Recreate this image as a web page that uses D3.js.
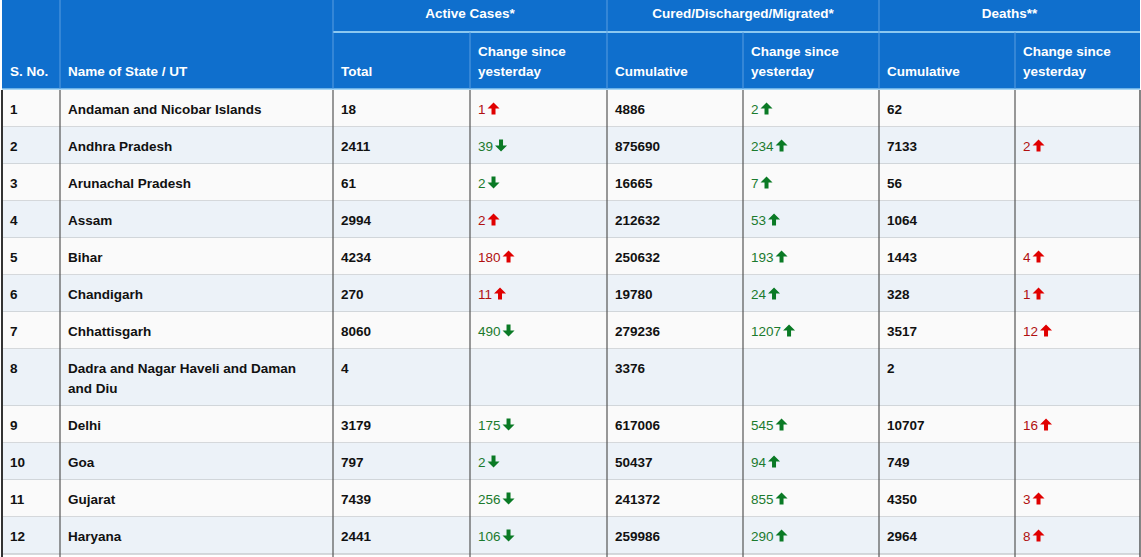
<!DOCTYPE html>
<html><head><meta charset="utf-8">
<script src="https://cdn.jsdelivr.net/npm/d3@7"></script>
<style>body{margin:0;background:#fff}svg{display:block}</style>
</head><body><svg id="c" width="1141" height="557"></svg>
<script>
const sno=[1,2,3,4,5,6,7,8,9,10,11,12];
const states=["Andaman and Nicobar Islands","Andhra Pradesh","Arunachal Pradesh","Assam","Bihar","Chandigarh","Chhattisgarh",["Dadra and Nagar Haveli and Daman","and Diu"],"Delhi","Goa","Gujarat","Haryana"];
const activeTotal=[18,2411,61,2994,4234,270,8060,4,3179,797,7439,2441];
const activeChange=[1,-39,-2,2,180,11,-490,null,-175,-2,-256,-106];
const curedCum=[4886,875690,16665,212632,250632,19780,279236,3376,617006,50437,241372,259986];
const curedChange=[2,234,7,53,193,24,1207,null,545,94,855,290];
const deathCum=[62,7133,56,1064,1443,328,3517,2,10707,749,4350,2964];
const deathChange=[null,2,null,null,4,1,12,null,16,null,3,8];
const groupHeaders=["Active Cases*","Cured/Discharged/Migrated*","Deaths**"];
const colHeaders=[["S. No."],["Name of State / UT"],["Total"],["Change since","yesterday"],["Cumulative"],["Change since","yesterday"],["Cumulative"],["Change since","yesterday"]];

const svg=d3.select("#c");
const F="'Liberation Sans',Arial,sans-serif";
const edges=[2,60,333,470,607,743,879,1015,1140];
const x=d3.scaleOrdinal().domain(d3.range(9)).range(edges);
const blue="#0f6fcd";
const headTop=0, headMid=32, headBot=89;
// row heights from line counts
const lines=states.map(s=>Array.isArray(s)?2:1);
const rowY=[];let yy=headBot+1;
lines.forEach(l=>{rowY.push(yy);yy+=l===2?57:37;});
const y=d3.scaleOrdinal().domain(d3.range(sno.length)).range(rowY);
const hgt=i=>lines[i]===2?57:37;

// header
svg.append("rect").attr("x",x(0)).attr("y",headTop).attr("width",x(8)-x(0)).attr("height",headBot-headTop).attr("fill",blue);
svg.append("line").attr("x1",x(2)).attr("x2",x(8)).attr("y1",headMid).attr("y2",headMid).attr("stroke","#8cc8f0").attr("stroke-width",2);
svg.append("line").attr("x1",x(0)).attr("x2",x(8)).attr("y1",headBot).attr("y2",headBot).attr("stroke","#8cc8f0").attr("stroke-width",1.5);
[1,2,4,6].forEach(k=>svg.append("line").attr("x1",x(k)).attr("x2",x(k)).attr("y1",0).attr("y2",headBot).attr("stroke","#5a9ee0"));
[3,5,7].forEach(k=>svg.append("line").attr("x1",x(k)).attr("x2",x(k)).attr("y1",headMid).attr("y2",headBot).attr("stroke","#5a9ee0"));
groupHeaders.forEach((g,i)=>svg.append("text").attr("x",(x(2+2*i)+x(4+2*i))/2).attr("y",18).attr("text-anchor","middle")
  .attr("fill","#fff").attr("font-family",F).attr("font-weight","bold").attr("font-size",13.5).text(g));
colHeaders.forEach((h,i)=>{
  h.forEach((t,j)=>svg.append("text").attr("x",x(i)+8).attr("y",h.length===2?56+j*20:76)
   .attr("fill","#fff").attr("font-family",F).attr("font-weight","bold").attr("font-size",13.5).text(t));
});

// rows
const cols=[sno,states,activeTotal,activeChange,curedCum,curedChange,deathCum,deathChange];
const changeKind={3:"active",5:"cured",7:"death"};
sno.forEach((_,i)=>{
  svg.append("rect").attr("x",x(0)).attr("y",y(i)).attr("width",x(8)-x(0)).attr("height",hgt(i)).attr("fill",i%2?"#ecf2f8":"#fafafa");
  svg.append("line").attr("x1",x(0)).attr("x2",x(8)).attr("y1",y(i)+hgt(i)).attr("y2",y(i)+hgt(i)).attr("stroke","#c8ccd0").attr("stroke-width",1.5);
  cols.forEach((arr,c)=>{
    const v=arr[i]; if(v===null||v===undefined) return;
    const ty=y(i)+23.5;
    if(changeKind[c]){
      const up=v>0, kind=changeKind[c];
      const good = kind==="cured"?true:!up;
      const tcol=good?"#1b7a2e":"#b01010", acol=good?"#0a7a25":"#e00000";
      const t=svg.append("text").attr("x",x(c)+8).attr("y",ty).attr("fill",tcol).attr("font-family",F).attr("font-size",13.5).text(Math.abs(v));
      const w=t.node().getComputedTextLength();
      const ax=x(c)+8+w+8, cy=y(i)+18.5;
      const p=up?`M${ax},${cy-6}L${ax+6},${cy}L${ax+2},${cy}L${ax+2},${cy+6}L${ax-2},${cy+6}L${ax-2},${cy}L${ax-6},${cy}Z`
               :`M${ax},${cy+6}L${ax+6},${cy}L${ax+2},${cy}L${ax+2},${cy-6}L${ax-2},${cy-6}L${ax-2},${cy}L${ax-6},${cy}Z`;
      svg.append("path").attr("d",p).attr("fill",acol);
    } else {
      const ls=Array.isArray(v)?v:[v];
      ls.forEach((t,j)=>svg.append("text").attr("x",x(c)+8).attr("y",ty+j*20).attr("fill","#111")
        .attr("font-family",F).attr("font-weight","bold").attr("font-size",13.5).text(t));
    }
  });
});
const bodyBot=y(sno.length-1)+hgt(sno.length-1);
d3.range(9).forEach(k=>svg.append("line").attr("x1",x(k)).attr("x2",x(k)).attr("y1",headBot+1).attr("y2",557)
  .attr("stroke",k===0||k===8?"#333":"#555").attr("stroke-width",k===0?2:1.2));
</script></body></html>
